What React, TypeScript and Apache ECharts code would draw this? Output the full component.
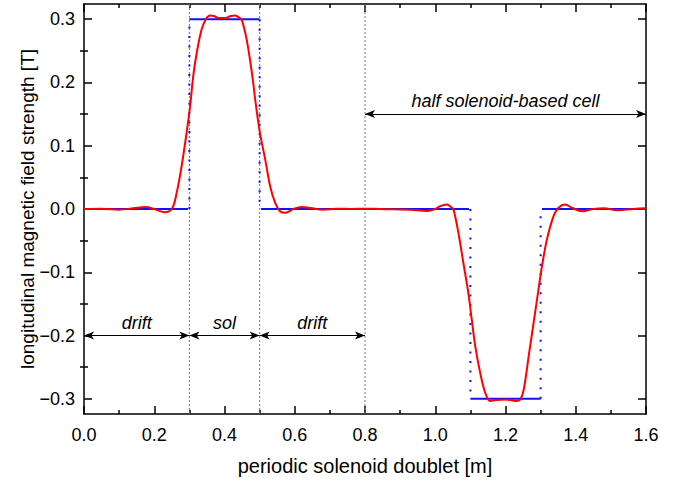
import React, { useEffect, useRef } from "react";
import * as echarts from "echarts";

// Hard-edge model: field level between successive edges
const edgeX = [0, 0.3, 0.5, 1.1, 1.3, 1.6];
const edgeLevel = [0, 0.3, 0, -0.3, 0];

// Realistic (smooth) field profile
const fieldX = [0, 0.05, 0.1, 0.14, 0.176, 0.2, 0.228, 0.25, 0.264, 0.278, 0.292, 0.302, 0.311, 0.321, 0.335, 0.348, 0.359, 0.37, 0.382, 0.402, 0.418, 0.43, 0.44, 0.449, 0.463, 0.478, 0.49, 0.501, 0.516, 0.53, 0.544, 0.558, 0.573, 0.596, 0.62, 0.65, 0.68, 0.72, 0.76, 0.8, 0.84, 0.88, 0.93, 0.976, 1.0, 1.014, 1.033, 1.045, 1.052, 1.066, 1.08, 1.094, 1.104, 1.114, 1.128, 1.142, 1.157, 1.172, 1.2, 1.215, 1.23, 1.242, 1.252, 1.266, 1.28, 1.294, 1.304, 1.318, 1.337, 1.351, 1.37, 1.389, 1.418, 1.451, 1.48, 1.518, 1.565, 1.6];
const fieldB = [0, 0.0005, -0.001, 0.001, 0.003, 0.0, -0.005, 0.0, 0.026, 0.068, 0.12, 0.162, 0.21, 0.247, 0.284, 0.301, 0.306, 0.305, 0.302, 0.302, 0.305, 0.306, 0.303, 0.299, 0.268, 0.215, 0.162, 0.12, 0.078, 0.036, 0.01, -0.0035, -0.006, 0, 0.003, 0.001, -0.001, 0.0005, 0, 0.0005, 0, -0.0005, -0.001, -0.003, 0.0, 0.0045, 0.007, 0.003, -0.001, -0.038, -0.085, -0.132, -0.175, -0.217, -0.259, -0.29, -0.3036, -0.302, -0.301, -0.302, -0.3036, -0.301, -0.285, -0.2325, -0.18, -0.127, -0.09, -0.048, -0.011, 0.002, 0.007, 0.002, -0.0035, 0, 0.001, -0.002, 0, 0.001];

// Vertical guide lines
const guideX = [0.3, 0.5, 0.8];

// Dimension arrows
const arrowFrom = [0, 0.3, 0.5, 0.8];
const arrowTo = [0.3, 0.5, 0.8, 1.6];
const arrowY = [-0.2, -0.2, -0.2, 0.15];
const arrowText = ["drift", "sol", "drift", "half solenoid-based cell"];

const yMajor = [-0.3, -0.2, -0.1, 0, 0.1, 0.2, 0.3];
const yMinor = [-0.25, -0.15, -0.05, 0.05, 0.15, 0.25];
const Y_MIN = -0.324;
const Y_MAX = 0.324;

const FONT = "'Liberation Sans', Arial, Helvetica, sans-serif";

export default function App() {
  const ref = useRef<HTMLDivElement>(null);
  useEffect(() => {
    if (!ref.current) return;
    const chart = echarts.init(ref.current, null, { renderer: "svg" });

    const gap = 0.004;
    const solidSeries: any[] = [];
    const dottedSeries: any[] = [];
    for (let i = 0; i < edgeLevel.length; i++) {
      const a = edgeX[i] + (i > 0 && edgeLevel[i] === 0 ? gap : 0);
      const b = edgeX[i + 1] - (i < edgeLevel.length - 1 && edgeLevel[i] === 0 ? gap : 0);
      solidSeries.push({
        type: "line",
        data: [[a, edgeLevel[i]], [b, edgeLevel[i]]],
        symbol: "none",
        lineStyle: { color: "#1010ff", width: 2 },
        z: 3,
        silent: true,
      });
    }
    for (let i = 1; i < edgeLevel.length; i++) {
      const lo = edgeLevel[i - 1];
      const hi = edgeLevel[i];
      dottedSeries.push({
        type: "line",
        data: [[edgeX[i], lo], [edgeX[i], hi]],
        symbol: "none",
        lineStyle: { color: "#1010ff", width: 2, type: [2, 7.5], cap: "butt" },
        z: 3,
        silent: true,
      });
    }
    const guideSeries = guideX.map((x) => ({
      type: "line",
      data: [[x, Y_MIN], [x, Y_MAX]],
      symbol: "none",
      lineStyle: { color: "#777", width: 1, type: [2, 2] },
      z: 2,
      silent: true,
    }));

    const axisLineStyle = { color: "#000", width: 1.5 };
    const yBase = (pos: string, extra: any) => ({
      type: "value",
      min: Y_MIN,
      max: Y_MAX,
      position: pos,
      splitLine: { show: false },
      axisLine: { show: true, onZero: false, lineStyle: axisLineStyle },
      ...extra,
    });

    chart.setOption({
      animation: false,
      backgroundColor: "#fff",
      grid: { left: 84, right: 37, top: 4, bottom: 69, containLabel: false },
      xAxis: [
        {
          type: "value",
          min: 0,
          max: 1.6,
          interval: 0.2,
          position: "bottom",
          name: "periodic solenoid doublet [m]",
          nameLocation: "middle",
          nameGap: 42,
          nameMoveOverlap: false,
          nameTextStyle: { fontFamily: FONT, fontSize: 20, color: "#000" },
          axisLine: { show: true, onZero: false, lineStyle: axisLineStyle },
          axisTick: { show: true, inside: true, length: 8, lineStyle: { color: "#000", width: 1.5 } },
          minorTick: { show: true, splitNumber: 2, length: 4, lineStyle: { color: "#000", width: 1.5 } },
          axisLabel: {
            margin: 12,
            fontFamily: FONT,
            fontSize: 18,
            color: "#000",
            formatter: (v: number) => v.toFixed(1),
          },
          splitLine: { show: false },
        },
        {
          type: "value",
          min: 0,
          max: 1.6,
          interval: 0.2,
          position: "top",
          axisLine: { show: true, onZero: false, lineStyle: axisLineStyle },
          axisTick: { show: true, inside: true, length: 8, lineStyle: { color: "#000", width: 1.5 } },
          minorTick: { show: true, splitNumber: 2, length: 4, lineStyle: { color: "#000", width: 1.5 } },
          axisLabel: { show: false },
          splitLine: { show: false },
        },
      ],
      yAxis: [
        yBase("left", {
          name: "longitudinal magnetic field strength [T]",
          nameLocation: "middle",
          nameGap: 47,
          nameMoveOverlap: false,
          nameTextStyle: { fontFamily: FONT, fontSize: 19, color: "#000" },
          axisTick: { show: true, inside: true, length: 8, customValues: yMajor, lineStyle: { color: "#000", width: 1.5 } },
          axisLabel: {
            customValues: yMajor,
            margin: 9,
            fontFamily: FONT,
            fontSize: 18,
            color: "#000",
            formatter: (v: number) => (v < 0 ? "\u2212" + Math.abs(v).toFixed(1) : v.toFixed(1)),
          },
        }),
        yBase("left", {
          axisLine: { show: false },
          axisTick: { show: true, inside: true, length: 4, customValues: yMinor, lineStyle: { color: "#000", width: 1.5 } },
          axisLabel: { show: false },
        }),
        yBase("right", {
          axisTick: { show: true, inside: true, length: 8, customValues: yMajor, lineStyle: { color: "#000", width: 1.5 } },
          axisLabel: { show: false },
        }),
        yBase("right", {
          axisLine: { show: false },
          axisTick: { show: true, inside: true, length: 4, customValues: yMinor, lineStyle: { color: "#000", width: 1.5 } },
          axisLabel: { show: false },
        }),
      ],
      series: [
        ...guideSeries,
        ...solidSeries,
        ...dottedSeries,
        {
          type: "line",
          name: "field",
          data: fieldX.map((x, i) => [x, fieldB[i]]),
          smooth: 0.35,
          symbol: "none",
          lineStyle: { color: "#ff0000", width: 2 },
          z: 4,
          silent: true,
        },
        {
          type: "line",
          name: "annotations",
          data: [],
          symbol: "none",
          silent: true,
          markLine: {
            silent: true,
            animation: false,
            symbol: ["arrow", "arrow"],
            symbolSize: [6, 10],
            lineStyle: { color: "#000", width: 1, type: "solid" },
            label: {
              show: true,
              position: "middle",
              distance: 4,
              formatter: "{b}",
              fontFamily: FONT,
              fontStyle: "italic",
              fontSize: 18,
              color: "#000",
            },
            data: arrowFrom.map((f, i) => [
              { coord: [f, arrowY[i]], name: arrowText[i] },
              { coord: [arrowTo[i], arrowY[i]] },
            ]),
          },
        },
      ],
    });
    return () => chart.dispose();
  }, []);
  return (
    <div
      ref={ref}
      style={{ position: "fixed", left: 0, top: 0, width: 683, height: 483 }}
    />
  );
}
